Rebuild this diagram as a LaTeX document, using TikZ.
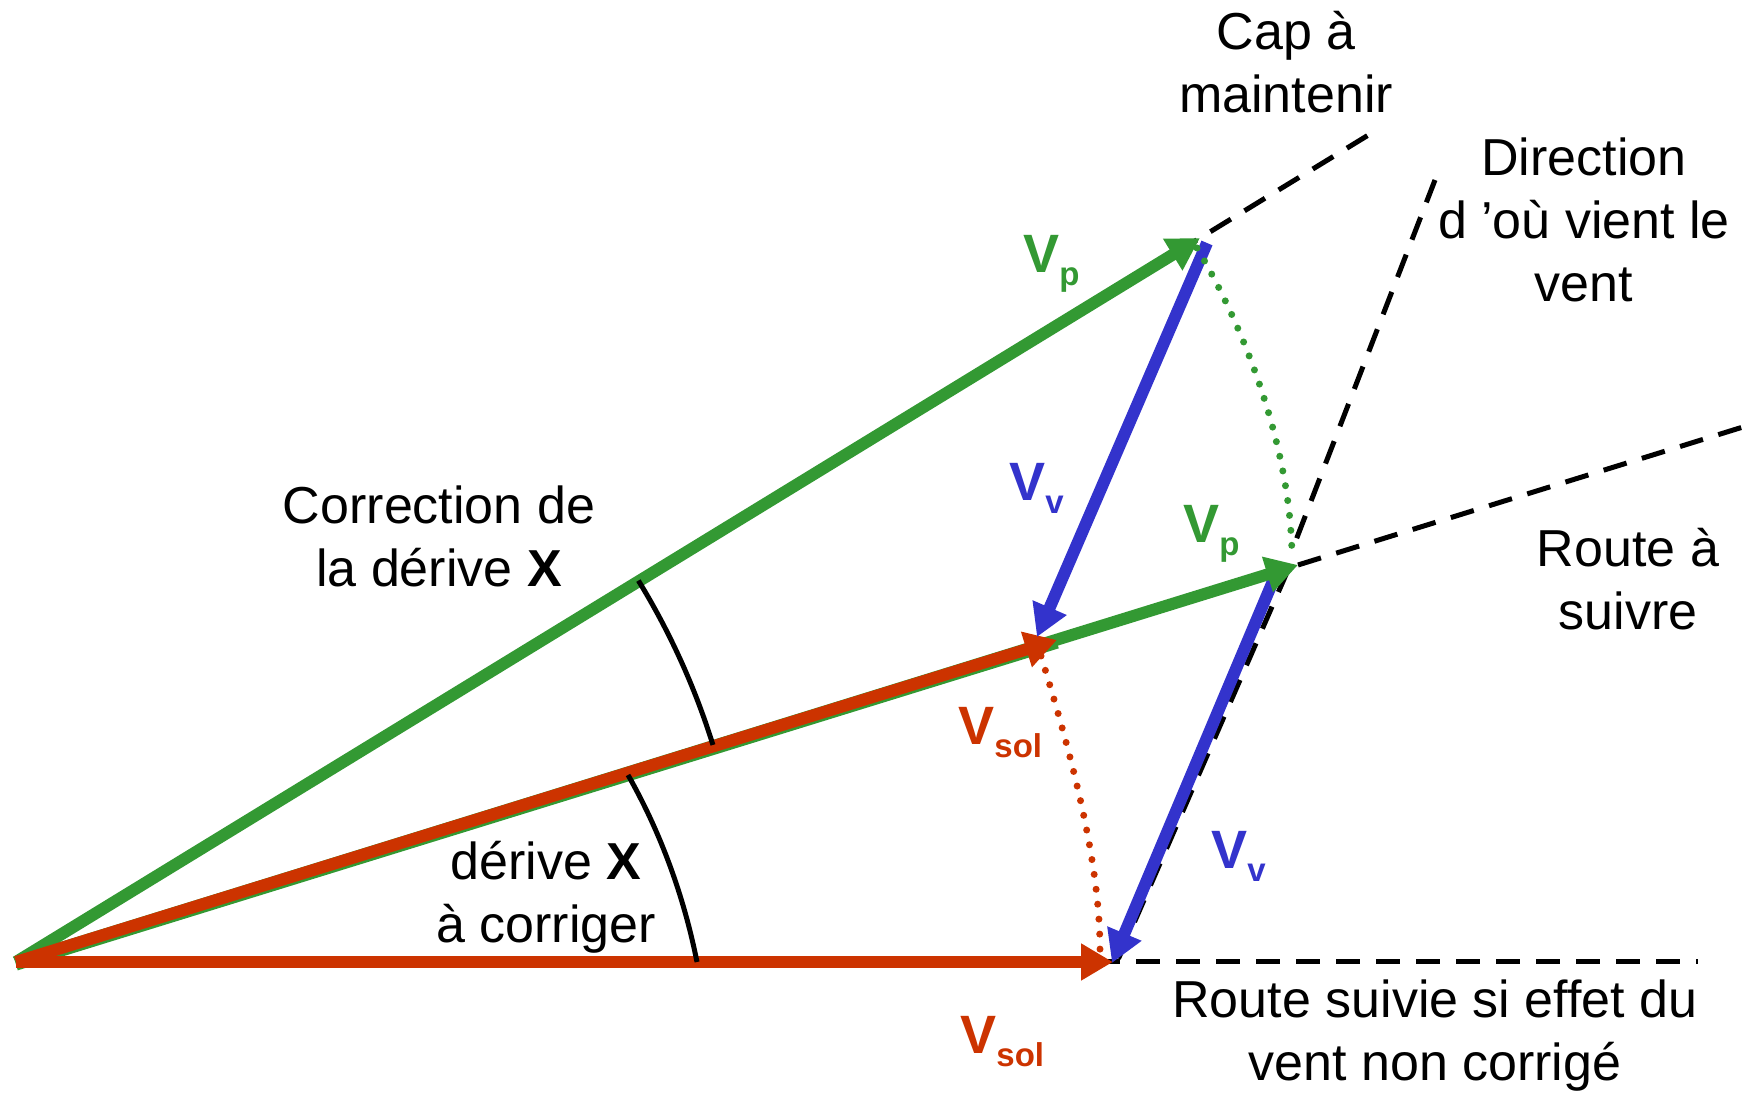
\documentclass[tikz,border=0pt]{standalone}
\usepackage{fontspec}
\setmainfont{Liberation Sans}
\usetikzlibrary{arrows.meta}
\definecolor{vgreen}{RGB}{51,153,51}
\definecolor{vred}{RGB}{204,51,0}
\definecolor{vblue}{RGB}{51,51,204}
\newcommand{\vlab}[1]{{\fontsize{27}{30}\selectfont\bfseries V}\raisebox{-6.5pt}{\fontsize{16.5}{18}\selectfont\bfseries #1}}
\begin{document}
\begin{tikzpicture}[x=0.5pt,y=-0.5pt,
  vec/.style={line width=6pt},
  tipA/.style={-{Triangle[length=16pt,width=17.5pt]}},
  guide/.style={line width=2.5pt, dash pattern=on 12pt off 8pt},
  dotline/.style={line width=3.5pt, dash pattern=on 0pt off 7.5pt, line cap=round},
  anglearc/.style={line width=2.5pt},
  txt/.style={align=center, font=\fontsize{26}{31.5}\selectfont, inner sep=0pt},
  lab/.style={anchor=base west, inner sep=0pt}
]
\useasboundingbox (0,0) rectangle (1758,1095);

\coordinate (O) at (16,962);
\coordinate (P) at (1200,238);
\coordinate (R) at (1298,565);
\coordinate (S) at (1057,640);
\coordinate (B) at (1113,962);
\coordinate (capEnd) at (1375,131);
\coordinate (routeEnd) at (1743,427);
\coordinate (botEnd) at (1698,962);
\coordinate (dirTop) at (1435,180);
\coordinate (dirLow) at (1291,553);
\coordinate (windLowTop) at (1288,570);
\coordinate (windLowEnd) at (1117,962);
\coordinate (vvA) at (1207,243);
\coordinate (vvB) at (1037,637);
\coordinate (vvC) at (1276,574);
\coordinate (vvD) at (1112,963);

% guide lines
\draw[guide] (O) -- (capEnd);
\draw[guide] (R) -- (routeEnd);
\draw[guide] (O) -- (botEnd);
\draw[guide] (dirTop) -- (dirLow);
\draw[guide] (windLowTop) -- (windLowEnd);

% heading vector
\draw[vec, vgreen, tipA] (O) -- (P);
% lower wind vector (under the green head)
\draw[vec, vblue, tipA] (vvC) -- (vvD);
% route: green under red
\draw[vec, vgreen] ([yshift=-1.3pt]O) -- ([yshift=-1.3pt]S);
\draw[vec, vgreen, tipA] (O) -- (R);
\draw[vec, vred, tipA] (O) -- (S);
\draw[vec, vred, tipA] (O) -- (B);
% upper wind vector
\draw[vec, vblue, tipA] (vvA) -- (vvB);

% dotted arcs
\draw[dotline, vgreen] (1197,248) .. controls (1240,320) and (1290,440) .. (1292,555);
\draw[dotline, vred] (1041,656) .. controls (1070,750) and (1100,860) .. (1100,950);

% angle arcs
\draw[anglearc] (O) ++(-31.5:730) arc[start angle=-31.5, end angle=-17.3, radius=730];
\draw[anglearc] (628,775) .. controls (661,833) and (684,897) .. (697,962);

% vector labels
\node[lab, text=vgreen] (lp1) at (1023,273) {\vlab{p}};
\node[lab, text=vblue] (lv1) at (1009,501) {\vlab{v}};
\node[lab, text=vgreen] (lp2) at (1183,543) {\vlab{p}};
\node[lab, text=vred] (ls1) at (958,745) {\vlab{sol}};
\node[lab, text=vblue] (lv2) at (1211,869) {\vlab{v}};
\node[lab, text=vred] (ls2) at (960,1054) {\vlab{sol}};

% texts
\node[txt] (cap) at (1286,62) {Cap à\\maintenir};
\node[txt] (dir) at (1584,220) {Direction\\d ’où vient le\\vent};
\node[txt] (route) at (1628,579) {Route à\\suivre};
\node[txt] (suivie) at (1435,1036) {Route suivie si effet du\\vent non corrigé};
\node[txt] (corr) at (439,536) {Correction de\\la dérive \textbf{X}};
\node[txt] (derive) at (546,897) {dérive \textbf{X}\\à corriger};
\end{tikzpicture}
\end{document}
